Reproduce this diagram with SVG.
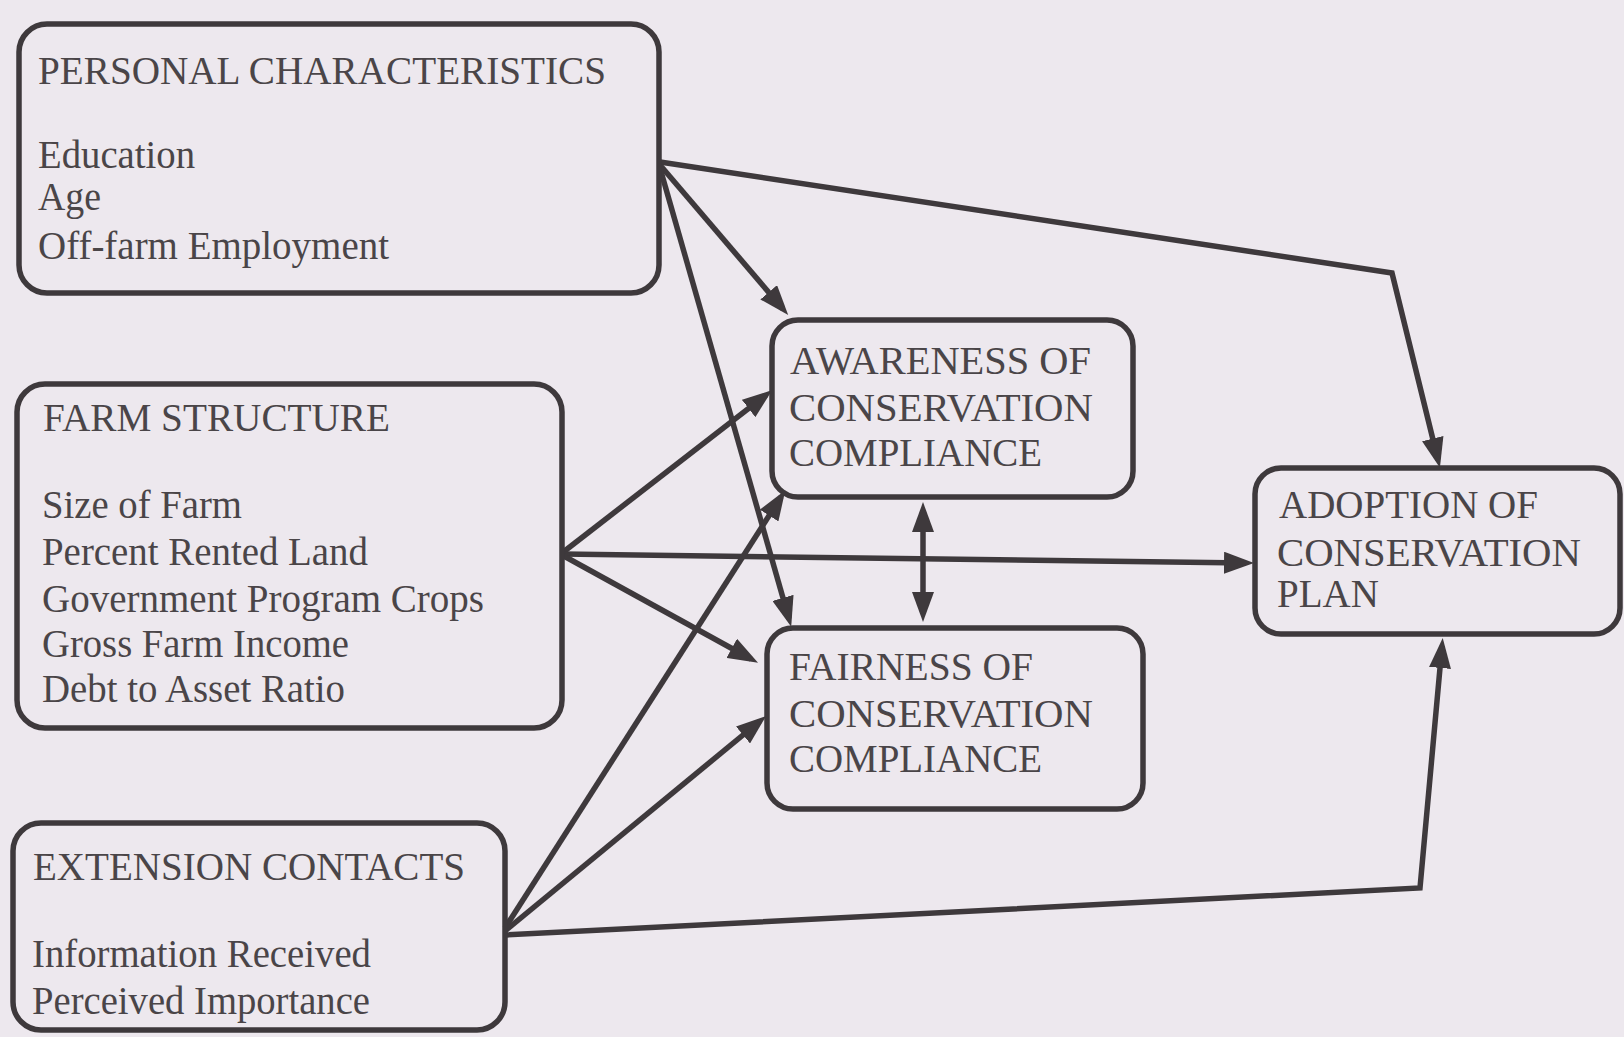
<svg xmlns="http://www.w3.org/2000/svg" width="1624" height="1037" viewBox="0 0 1624 1037">
  <defs>
    <style>
      .box { fill: none; stroke: #3e393c; stroke-width: 5.5; }
      .lbl { font-family: "Liberation Serif", "Times New Roman", serif; font-size: 39px; fill: #4a4548; }
      .edge { fill: none; stroke: #3e393c; stroke-width: 5.5; stroke-linejoin: miter; }
    </style>
    <marker id="arrow" viewBox="0 0 30 22" refX="22" refY="11" markerWidth="30" markerHeight="22" markerUnits="userSpaceOnUse" orient="auto-start-reverse">
      <path d="M0,0 L30,11 L0,22 Z" fill="#3e393c"/>
    </marker>
  </defs>

  <rect width="1624" height="1037" fill="#ede8ee"/>

  <!-- connectors -->
  <g id="connectors">
    <polyline class="edge" points="660,162 1392,273 1438,460" marker-end="url(#arrow)"/>
    <line class="edge" x1="660" y1="165" x2="783" y2="309" marker-end="url(#arrow)"/>
    <line class="edge" x1="660" y1="168" x2="789" y2="619" marker-end="url(#arrow)"/>
    <line class="edge" x1="562" y1="553" x2="766" y2="395" marker-end="url(#arrow)"/>
    <line class="edge" x1="562" y1="554" x2="1246" y2="563" marker-end="url(#arrow)"/>
    <line class="edge" x1="562" y1="555" x2="751" y2="659" marker-end="url(#arrow)"/>
    <line class="edge" x1="505" y1="928" x2="781" y2="497" marker-end="url(#arrow)"/>
    <line class="edge" x1="505" y1="931" x2="760" y2="721" marker-end="url(#arrow)"/>
    <polyline class="edge" points="505,935 1420,888 1442,646" marker-end="url(#arrow)"/>
    <line class="edge" x1="923" y1="510" x2="923" y2="614" marker-start="url(#arrow)" marker-end="url(#arrow)"/>
  </g>

  <!-- source nodes -->
  <g id="personal">
    <rect class="box" x="19" y="24" width="640" height="269" rx="28"/>
    <text class="lbl" x="38" y="84" textLength="568" lengthAdjust="spacingAndGlyphs">PERSONAL CHARACTERISTICS</text>
    <text class="lbl" x="38" y="168" textLength="157" lengthAdjust="spacingAndGlyphs">Education</text>
    <text class="lbl" x="38" y="210" textLength="63" lengthAdjust="spacingAndGlyphs">Age</text>
    <text class="lbl" x="38" y="259" textLength="351" lengthAdjust="spacingAndGlyphs">Off-farm Employment</text>
  </g>

  <g id="farm">
    <rect class="box" x="17" y="384" width="545" height="344" rx="28"/>
    <text class="lbl" x="43" y="431" textLength="347" lengthAdjust="spacingAndGlyphs">FARM STRUCTURE</text>
    <text class="lbl" x="42" y="518" textLength="200" lengthAdjust="spacingAndGlyphs">Size of Farm</text>
    <text class="lbl" x="42" y="565" textLength="326" lengthAdjust="spacingAndGlyphs">Percent Rented Land</text>
    <text class="lbl" x="42" y="612" textLength="442" lengthAdjust="spacingAndGlyphs">Government Program Crops</text>
    <text class="lbl" x="42" y="657" textLength="307" lengthAdjust="spacingAndGlyphs">Gross Farm Income</text>
    <text class="lbl" x="42" y="702" textLength="303" lengthAdjust="spacingAndGlyphs">Debt to Asset Ratio</text>
  </g>

  <g id="extension">
    <rect class="box" x="13" y="823" width="492" height="207" rx="28"/>
    <text class="lbl" x="33" y="880" textLength="432" lengthAdjust="spacingAndGlyphs">EXTENSION CONTACTS</text>
    <text class="lbl" x="32" y="967" textLength="339" lengthAdjust="spacingAndGlyphs">Information Received</text>
    <text class="lbl" x="32" y="1014" textLength="338" lengthAdjust="spacingAndGlyphs">Perceived Importance</text>
  </g>

  <!-- intermediate nodes -->
  <g id="awareness">
    <rect class="box" x="772" y="320" width="361" height="177" rx="26"/>
    <text class="lbl" x="790" y="374" textLength="301" lengthAdjust="spacingAndGlyphs">AWARENESS OF</text>
    <text class="lbl" x="789" y="421" textLength="304" lengthAdjust="spacingAndGlyphs">CONSERVATION</text>
    <text class="lbl" x="789" y="466" textLength="253" lengthAdjust="spacingAndGlyphs">COMPLIANCE</text>
  </g>

  <g id="fairness">
    <rect class="box" x="767" y="628" width="376" height="181" rx="26"/>
    <text class="lbl" x="789" y="680" textLength="244" lengthAdjust="spacingAndGlyphs">FAIRNESS OF</text>
    <text class="lbl" x="789" y="727" textLength="304" lengthAdjust="spacingAndGlyphs">CONSERVATION</text>
    <text class="lbl" x="789" y="772" textLength="253" lengthAdjust="spacingAndGlyphs">COMPLIANCE</text>
  </g>

  <!-- outcome node -->
  <g id="adoption">
    <rect class="box" x="1255" y="468" width="365" height="166" rx="26"/>
    <text class="lbl" x="1279" y="518" textLength="259" lengthAdjust="spacingAndGlyphs">ADOPTION OF</text>
    <text class="lbl" x="1277" y="566" textLength="304" lengthAdjust="spacingAndGlyphs">CONSERVATION</text>
    <text class="lbl" x="1277" y="607">PLAN</text>
  </g>
</svg>
